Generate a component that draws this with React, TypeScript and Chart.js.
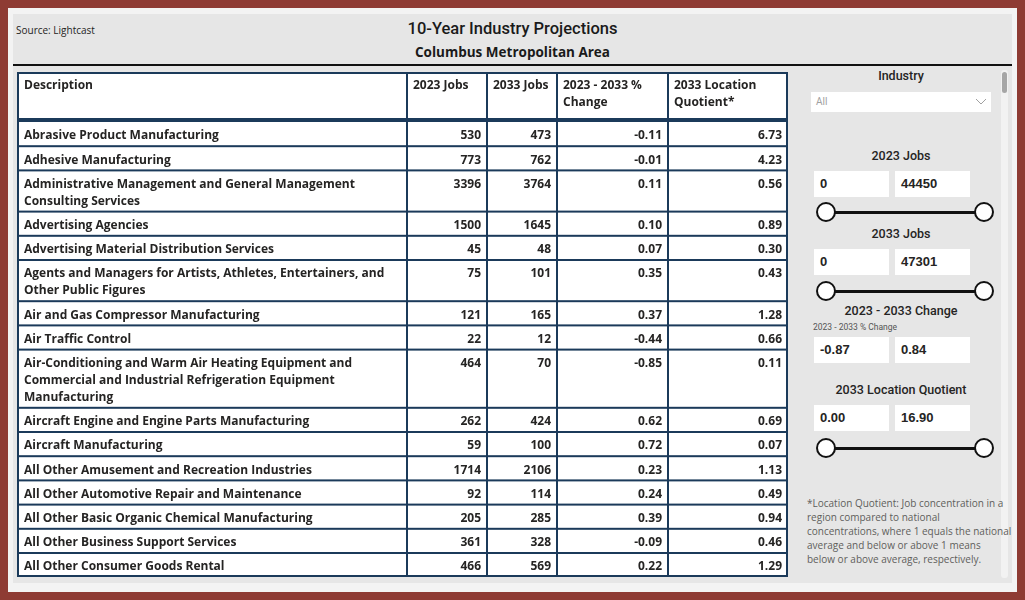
import React, { useEffect, useRef } from "react";
import { Chart, registerables } from "chart.js";

Chart.register(...registerables);

// ---------- DATA ----------
const headers: string[][] = [
  ["Description"],
  ["2023 Jobs"],
  ["2033 Jobs"],
  ["2023 - 2033 %", "Change"],
  ["2033 Location", "Quotient*"],
];

const descriptions: string[][] = [
  ["Abrasive Product Manufacturing"],
  ["Adhesive Manufacturing"],
  ["Administrative Management and General Management", "Consulting Services"],
  ["Advertising Agencies"],
  ["Advertising Material Distribution Services"],
  ["Agents and Managers for Artists, Athletes, Entertainers, and", "Other Public Figures"],
  ["Air and Gas Compressor Manufacturing"],
  ["Air Traffic Control"],
  [
    "Air-Conditioning and Warm Air Heating Equipment and",
    "Commercial and Industrial Refrigeration Equipment",
    "Manufacturing",
  ],
  ["Aircraft Engine and Engine Parts Manufacturing"],
  ["Aircraft Manufacturing"],
  ["All Other Amusement and Recreation Industries"],
  ["All Other Automotive Repair and Maintenance"],
  ["All Other Basic Organic Chemical Manufacturing"],
  ["All Other Business Support Services"],
  ["All Other Consumer Goods Rental"],
];

const jobs2023 = [530, 773, 3396, 1500, 45, 75, 121, 22, 464, 262, 59, 1714, 92, 205, 361, 466];
const jobs2033 = [473, 762, 3764, 1645, 48, 101, 165, 12, 70, 424, 100, 2106, 114, 285, 328, 569];
const pctChange = [-0.11, -0.01, 0.11, 0.1, 0.07, 0.35, 0.37, -0.44, -0.85, 0.62, 0.72, 0.23, 0.24, 0.39, -0.09, 0.22];
const locationQuotient = [6.73, 4.23, 0.56, 0.89, 0.3, 0.43, 1.28, 0.66, 0.11, 0.69, 0.07, 1.13, 0.49, 0.94, 0.46, 1.29];

const jobs2023Range = ["0", "44450"];
const jobs2033Range = ["0", "47301"];
const changeRange = ["-0.87", "0.84"];
const lqRange = ["0.00", "16.90"];

const footnoteLines = [
  "*Location Quotient: Job concentration in a",
  "region compared to national",
  "concentrations, where 1 equals the national",
  "average and below or above 1 means",
  "below or above average, respectively.",
];

// ---------- LAYOUT / STYLE ----------
const RED = "#8e3b33";
const NAVY = "#1b3a5a";
const TEXT = "#252423";
const TABLE_W = 771;
const TABLE_H = 505;
const COL_EDGES = [0, 390, 470, 540, 651, 771];
const FIRST_ROW_TOP = 50;
const ROW_BASE = 7.2;
const LINE_H = 17;
const PAD_L = 7;
const PAD_R = 6;
const TEXT_DY = 14;
const TABLE_FONT = "700 12px 'Open Sans'";
const DIN = "Roboto, 'DejaVu Sans', sans-serif";

const rowTops: number[] = [];
{
  let y = FIRST_ROW_TOP;
  descriptions.forEach((d) => {
    rowTops.push(y);
    y += ROW_BASE + LINE_H * d.length;
  });
  rowTops.push(y);
}

const fmtInt = (v: number) => String(v);
const fmt2 = (v: number) => v.toFixed(2);

const tablePlugin = {
  id: "tablePlugin",
  beforeDatasetsDraw(chart: any) {
    const { ctx, scales } = chart;
    const xs = scales.x;
    const ys = scales.y;
    const px = (v: number) => xs.getPixelForValue(v);
    const py = (v: number) => ys.getPixelForValue(v);
    ctx.save();
    ctx.fillStyle = "#ffffff";
    ctx.fillRect(px(0), py(0), px(TABLE_W) - px(0), py(TABLE_H) - py(0));
    ctx.fillStyle = NAVY;
    // outer border
    ctx.fillRect(px(0), py(0), px(TABLE_W) - px(0), 2);
    ctx.fillRect(px(0), py(TABLE_H) - 2, px(TABLE_W) - px(0), 2);
    ctx.fillRect(px(0), py(0), 2, py(TABLE_H) - py(0));
    ctx.fillRect(px(TABLE_W) - 2, py(0), 2, py(TABLE_H) - py(0));
    // vertical column lines
    for (let c = 1; c < COL_EDGES.length - 1; c++) {
      ctx.fillRect(px(COL_EDGES[c]) - 1, py(0), 2, py(TABLE_H) - py(0));
    }
    // header bottom (thick)
    ctx.fillRect(px(0), py(FIRST_ROW_TOP) - 4, px(TABLE_W) - px(0), 4);
    // row separators
    for (let r = 1; r < rowTops.length - 1; r++) {
      ctx.fillRect(px(0), py(rowTops[r]) - 1, px(TABLE_W) - px(0), 2);
    }
    // header text
    ctx.fillStyle = TEXT;
    ctx.font = TABLE_FONT;
    ctx.textBaseline = "middle";
    ctx.textAlign = "left";
    headers.forEach((h, c) => {
      h.forEach((line, li) => {
        ctx.fillText(line, px(COL_EDGES[c] + PAD_L) - (c === 0 ? 0 : 1), py(TEXT_DY + li * LINE_H));
      });
    });
    ctx.restore();
  },
  afterDatasetsDraw(chart: any) {
    const { ctx } = chart;
    ctx.save();
    ctx.fillStyle = TEXT;
    ctx.font = TABLE_FONT;
    ctx.textBaseline = "middle";
    chart.data.datasets.forEach((ds: any, di: number) => {
      const meta = chart.getDatasetMeta(di);
      ctx.textAlign = ds.textAlign;
      meta.data.forEach((el: any, i: number) => {
        const lines: string[] = ds.cellText[i];
        lines.forEach((line: string, li: number) => {
          ctx.fillText(line, el.x, el.y + li * LINE_H);
        });
      });
    });
    ctx.restore();
  },
};

function cellPoints(col: number, align: "left" | "right") {
  return descriptions.map((_, i) => ({
    x: align === "left" ? COL_EDGES[col] + PAD_L : COL_EDGES[col + 1] - PAD_R,
    y: rowTops[i] + TEXT_DY,
  }));
}

function RangeFilter(props: {
  title: string;
  titleY: number;
  boxY: number;
  values: string[];
  sliderY?: number;
  subLabel?: string;
}) {
  const { title, titleY, boxY, values, sliderY, subLabel } = props;
  return (
    <>
      <div
        style={{
          position: "absolute",
          left: 801,
          width: 200,
          top: titleY - 9,
          height: 18,
          lineHeight: "18px",
          textAlign: "center",
          fontFamily: DIN,
          fontWeight: 500,
          fontSize: 12.5,
          color: "#252423",
        }}
      >
        {title}
      </div>
      {subLabel && (
        <div
          style={{
            position: "absolute",
            left: 813,
            top: titleY + 11,
            fontFamily: DIN,
            fontSize: 8.5,
            color: "#555555",
            lineHeight: "10px",
          }}
        >
          {subLabel}
        </div>
      )}
      {values.map((v, i) => (
        <div
          key={i}
          style={{
            position: "absolute",
            left: i === 0 ? 814 : 895,
            top: boxY,
            width: 75,
            height: 26,
            background: "#ffffff",
            boxSizing: "border-box",
            paddingLeft: 6,
            lineHeight: "26px",
            fontFamily: "'Liberation Sans', Arial, sans-serif",
            fontWeight: 700,
            fontSize: 13,
            color: "#252423",
          }}
        >
          {v}
        </div>
      ))}
      {sliderY !== undefined && (
        <>
          <div
            style={{
              position: "absolute",
              left: 826,
              top: sliderY - 1,
              width: 158,
              height: 2.5,
              background: "#111",
            }}
          />
          {[826, 984].map((cx) => (
            <div
              key={cx}
              style={{
                position: "absolute",
                left: cx - 10,
                top: sliderY - 10,
                width: 20,
                height: 20,
                boxSizing: "border-box",
                borderRadius: "50%",
                border: "2px solid #111",
                background: "#fff",
              }}
            />
          ))}
        </>
      )}
    </>
  );
}

export default function App() {
  const canvasRef = useRef<HTMLCanvasElement>(null);

  useEffect(() => {
    const canvas = canvasRef.current;
    if (!canvas) return;
    const datasets: any[] = [
      { label: "Description", data: cellPoints(0, "left"), cellText: descriptions, textAlign: "left" },
      { label: "2023 Jobs", data: cellPoints(1, "right"), cellText: jobs2023.map((v) => [fmtInt(v)]), textAlign: "right" },
      { label: "2033 Jobs", data: cellPoints(2, "right"), cellText: jobs2033.map((v) => [fmtInt(v)]), textAlign: "right" },
      { label: "2023 - 2033 % Change", data: cellPoints(3, "right"), cellText: pctChange.map((v) => [fmt2(v)]), textAlign: "right" },
      { label: "2033 Location Quotient*", data: cellPoints(4, "right"), cellText: locationQuotient.map((v) => [fmt2(v)]), textAlign: "right" },
    ];
    const chart = new Chart(canvas, {
      type: "scatter",
      data: { datasets },
      options: {
        animation: false,
        responsive: false,
        maintainAspectRatio: false,
        devicePixelRatio: 1,
        layout: { padding: 0 },
        elements: { point: { radius: 0, hoverRadius: 0 } },
        plugins: { legend: { display: false }, tooltip: { enabled: false } },
        events: [],
        scales: {
          x: { type: "linear", min: 0, max: TABLE_W, display: false },
          y: { type: "linear", min: 0, max: TABLE_H, reverse: true, display: false },
        },
      },
      plugins: [tablePlugin],
    } as any);
    return () => chart.destroy();
  }, []);

  return (
    <div
      style={{
        position: "fixed",
        left: 0,
        top: 0,
        width: 1025,
        height: 600,
        background: RED,
        overflow: "hidden",
        fontFamily: "'Open Sans', sans-serif",
      }}
    >
      {/* inner panel */}
      <div style={{ position: "absolute", left: 8, top: 8, width: 1009, height: 584, background: "#f3f3f3" }} />
      <div style={{ position: "absolute", left: 13, top: 14, width: 999, height: 569, background: "#e6e6e6" }} />
      {/* header */}
      <div
        style={{
          position: "absolute",
          left: 16,
          top: 23,
          fontSize: 10,
          lineHeight: "14px",
          color: "#252423",
          fontFamily: "'Open Sans', sans-serif",
        }}
      >
        Source: Lightcast
      </div>
      <div
        style={{
          position: "absolute",
          left: 0,
          width: 1025,
          top: 18,
          textAlign: "center",
          fontFamily: DIN,
          fontWeight: 500,
          fontSize: 16.5,
          lineHeight: "22px",
          color: "#1a1a1a",
        }}
      >
        10-Year Industry Projections
      </div>
      <div
        style={{
          position: "absolute",
          left: 0,
          width: 1025,
          top: 43,
          textAlign: "center",
          fontFamily: "'Open Sans', sans-serif",
          fontWeight: 700,
          fontSize: 13.5,
          lineHeight: "18px",
          color: "#1a1a1a",
        }}
      >
        Columbus Metropolitan Area
      </div>
      <div style={{ position: "absolute", left: 13, top: 64, width: 999, height: 2, background: "#111" }} />

      {/* table */}
      <canvas
        ref={canvasRef}
        width={TABLE_W}
        height={TABLE_H}
        style={{ position: "absolute", left: 17, top: 72, width: TABLE_W, height: TABLE_H }}
      />

      {/* sidebar */}
      <div style={{ position: "absolute", left: 1001, top: 70, width: 7, height: 508, background: "#f2f2f2", borderRadius: 3 }} />
      <div style={{ position: "absolute", left: 1002, top: 72, width: 5, height: 21, background: "#a6a6a6", borderRadius: 3 }} />
      <div
        style={{
          position: "absolute",
          left: 801,
          width: 200,
          top: 67,
          height: 18,
          lineHeight: "18px",
          textAlign: "center",
          fontFamily: DIN,
          fontWeight: 500,
          fontSize: 12.5,
          color: "#252423",
        }}
      >
        Industry
      </div>
      <div
        style={{
          position: "absolute",
          left: 811,
          top: 92,
          width: 180,
          height: 20,
          background: "#fff",
          boxSizing: "border-box",
          paddingLeft: 5,
          lineHeight: "20px",
          fontFamily: DIN,
          fontSize: 10,
          color: "#a0a0a0",
        }}
      >
        All
      </div>
      <svg style={{ position: "absolute", left: 975, top: 98 }} width={12} height={8}>
        <polyline points="1,1 6,6 11,1" fill="none" stroke="#a0a0a0" strokeWidth={1} />
      </svg>

      <RangeFilter title="2023 Jobs" titleY={156} boxY={171} values={jobs2023Range} sliderY={212} />
      <RangeFilter title="2033 Jobs" titleY={234} boxY={249} values={jobs2033Range} sliderY={291} />
      <RangeFilter
        title="2023 - 2033 Change"
        titleY={311}
        boxY={337}
        values={changeRange}
        subLabel="2023 - 2033 % Change"
      />
      <RangeFilter title="2033 Location Quotient" titleY={390} boxY={405} values={lqRange} sliderY={448} />

      <div
        style={{
          position: "absolute",
          left: 807,
          top: 496,
          fontFamily: "'Open Sans', sans-serif",
          fontSize: 10,
          lineHeight: "14px",
          color: "#605e5c",
          whiteSpace: "nowrap",
        }}
      >
        {footnoteLines.map((l, i) => (
          <div key={i}>{l}</div>
        ))}
      </div>
    </div>
  );
}
